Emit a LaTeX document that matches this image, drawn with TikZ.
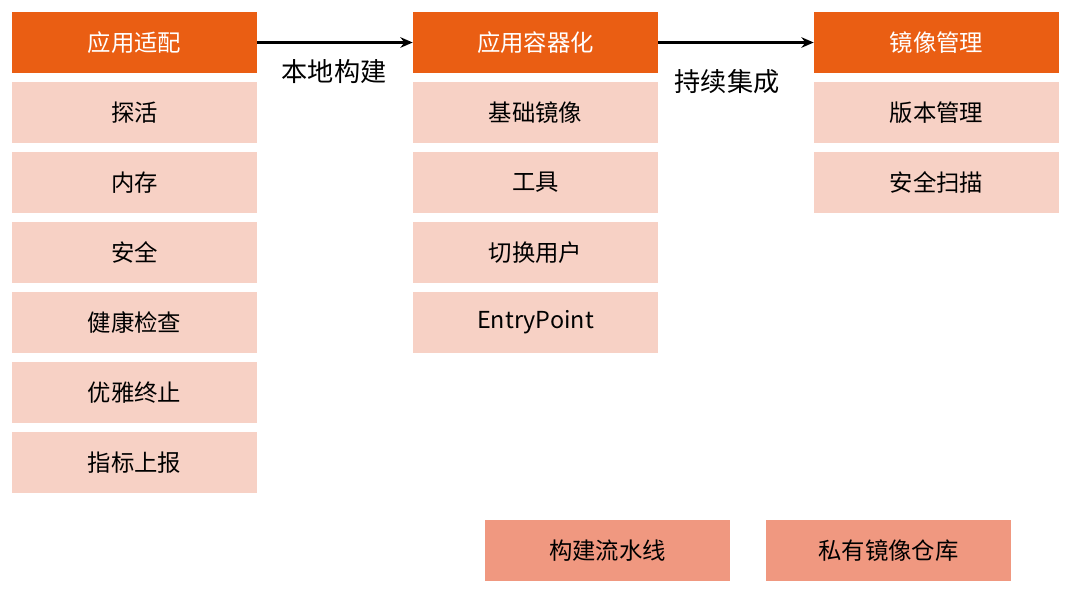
\documentclass[tikz,border=0pt]{standalone}
\usepackage{fontspec}
\setmainfont{Noto Sans CJK SC}
\usetikzlibrary{arrows.meta}
\definecolor{hdorange}{HTML}{EA5E13}
\definecolor{itempink}{HTML}{F7D1C5}
\definecolor{repopink}{HTML}{F09880}

\begin{document}
\begin{tikzpicture}[x=0.02cm, y=-0.02cm,
    box/.style={minimum width=4.9cm, minimum height=1.22cm, inner sep=0pt,
        font=\fontsize{13.3}{15}\selectfont},
    header/.style={box, fill=hdorange, text=white},
    item/.style={box, fill=itempink},
    repo/.style={box, fill=repopink}]
    \useasboundingbox (0,0) rectangle (1070,589);

    % headers
    \node [header] (adapt) at (134.5,42.5) {应用适配};
    \node [header] (contain) at (535.5,42.5) {应用容器化};
    \node [header] (imgmgmt) at (936.5,42.5) {镜像管理};

    \foreach \txt [count=\i] in {探活,内存,安全,健康检查,优雅终止,指标上报}
        \node [item] (adapt\i) at (134.5,42.5+70*\i) {\txt};
    \foreach \txt [count=\i] in {基础镜像,工具,切换用户,EntryPoint}
        \node [item] (contain\i) at (535.5,42.5+70*\i) {\txt};
    \foreach \txt [count=\i] in {版本管理,安全扫描}
        \node [item] (imgmgmt\i) at (936.5,42.5+70*\i) {\txt};

    \node [repo] (pipeline) at (607.5,550.5) {构建流水线};
    \node [repo] (registry) at (888.5,550.5) {私有镜像仓库};

    \draw [-{Stealth[length=7pt,width=6pt]}, line width=1.2pt] (adapt) -- (contain);
    \draw [-{Stealth[length=7pt,width=6pt]}, line width=1.2pt] (contain) -- (imgmgmt);
    \node [font=\fontsize{14.9}{17}\selectfont] (localbuild) at (334,72) {本地构建};
    \node [font=\fontsize{14.9}{17}\selectfont] (ci) at (727,82) {持续集成};
\end{tikzpicture}
\end{document}
